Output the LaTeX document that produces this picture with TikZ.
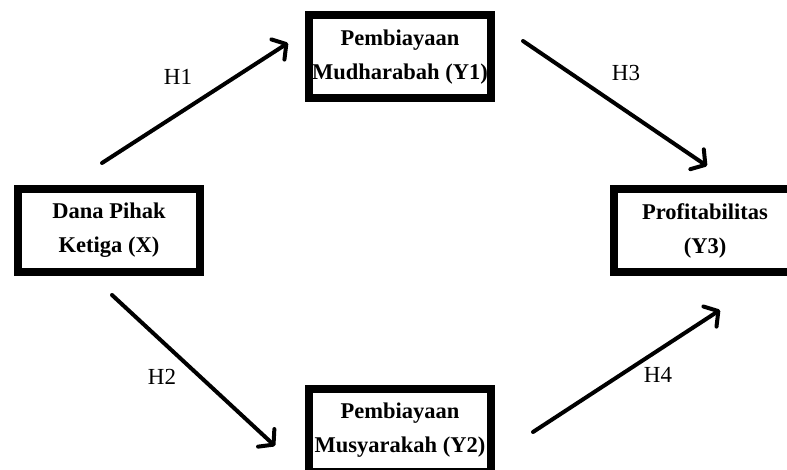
\documentclass[tikz,border=0pt]{standalone}
\usepackage{fontspec}
\newfontfamily\boxfont{Liberation Serif}
\usetikzlibrary{arrows.meta}

\tikzset{
	varbox/.style={draw, line width=8pt, minimum width=182pt, minimum height=83pt, inner sep=0pt, align=center, font=\boxfont\bfseries\fontsize{22.5}{34}\selectfont},
	hyp/.style={line width=4pt, line cap=round, -{Straight Barb[length=10pt,width=24pt,round]}},
	hlabel/.style={inner sep=0pt, font=\boxfont\fontsize{23}{27}\selectfont}
}

\begin{document}
\begin{tikzpicture}[x=1pt,y=1pt,yscale=-1,xscale=1]
			\useasboundingbox (0,0) rectangle (787,470);
			\clip (0,0) rectangle (787,470);
			
			% Boxes
			\node [varbox] (dpk) at (109,230.5) {Dana Pihak\\Ketiga (X)};
			\node [varbox] (mdh) at (400,57) {Pembiayaan\\Mudharabah (Y1)};
			\node [varbox] (msy) at (400,430.5) {Pembiayaan\\Musyarakah (Y2)};
			\node [varbox] (prf) at (705,231) {Profitabilitas\\(Y3)};
			
			% Arrow ends
			\coordinate (h1s) at (102,163);
			\coordinate (h1e) at (288,43);
			\coordinate (h2s) at (112,295);
			\coordinate (h2e) at (275,446);
			\coordinate (h3s) at (523,41);
			\coordinate (h3e) at (707,166);
			\coordinate (h4s) at (533,432);
			\coordinate (h4e) at (720,310);
			
			% Arrows
			\draw [hyp] (h1s) -- (h1e);
			\draw [hyp] (h2s) -- (h2e);
			\draw [hyp] (h3s) -- (h3e);
			\draw [hyp] (h4s) -- (h4e);
			
			% Text Node
			\node [hlabel] (lh1) at (178,77) {H1};
			% Text Node
			\node [hlabel] (lh2) at (162,377) {H2};
			% Text Node
			\node [hlabel] (lh3) at (626,73) {H3};
			% Text Node
			\node [hlabel] (lh4) at (658,375) {H4};
		\end{tikzpicture}
\end{document}
